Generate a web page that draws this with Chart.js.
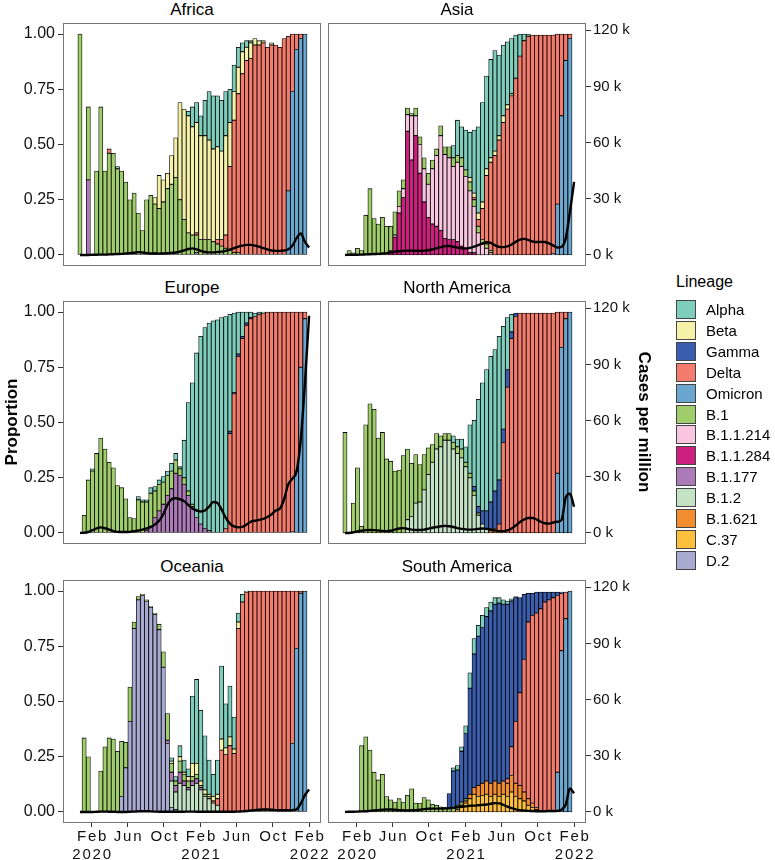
<!DOCTYPE html>
<html>
<head>
<meta charset="utf-8">
<script src="https://cdn.jsdelivr.net/npm/chart.js@4.4.1/dist/chart.umd.min.js"></script>
<style>
  html, body { margin: 0; padding: 0; background: #fff; }
  #fig { position: relative; width: 775px; height: 860px; overflow: hidden;
         font-family: "Liberation Sans", Arial, sans-serif; color: #000; }
  #fig canvas { position: absolute; }
  .strip { position: absolute; width: 258px; height: 22px; line-height: 22px; text-align: center; font-size: 17px; }
  .axis-title { position: absolute; width: 240px; height: 22px; line-height: 22px; text-align: center;
                font-weight: bold; font-size: 17px; }
  .key { position: absolute; width: 20px; height: 19px; box-sizing: border-box; border: 1px solid #444; }
  .key-label { position: absolute; height: 19px; line-height: 19px; font-size: 15px; white-space: nowrap; }
</style>
</head>
<body>
<div id="fig"></div>
<script>
// ---- data ----
const lineages = ['Alpha', 'Beta', 'Gamma', 'Delta', 'Omicron', 'B.1', 'B.1.1.214', 'B.1.1.284',
                  'B.1.177', 'B.1.2', 'B.1.621', 'C.37', 'D.2'];
const lineageColors = ['#7FCDBB', '#F6F1A8', '#3A5DAE', '#F47C6D', '#6AA6CE', '#A0CD6B', '#F8C6DF', '#CC1F7E',
                       '#AD7BB8', '#C3E3C4', '#F28E30', '#FDBF3E', '#A9AAD2'];

// two-week bins (bars use the first 55, the case line runs one bin further)
const binDates = [
  '2019-12-24', '2020-01-07', '2020-01-21', '2020-02-04', '2020-02-18', '2020-03-03', '2020-03-17', '2020-03-31',
  '2020-04-14', '2020-04-28', '2020-05-12', '2020-05-26', '2020-06-09', '2020-06-23', '2020-07-07', '2020-07-21',
  '2020-08-04', '2020-08-18', '2020-09-01', '2020-09-15', '2020-09-29', '2020-10-13', '2020-10-27', '2020-11-10',
  '2020-11-24', '2020-12-08', '2020-12-22', '2021-01-05', '2021-01-19', '2021-02-02', '2021-02-16', '2021-03-02',
  '2021-03-16', '2021-03-30', '2021-04-13', '2021-04-27', '2021-05-11', '2021-05-25', '2021-06-08', '2021-06-22',
  '2021-07-06', '2021-07-20', '2021-08-03', '2021-08-17', '2021-08-31', '2021-09-14', '2021-09-28', '2021-10-12',
  '2021-10-26', '2021-11-09', '2021-11-23', '2021-12-07', '2021-12-21', '2022-01-04', '2022-01-18', '2022-02-01'
];
const xTickDates = ['2020-02-01', '2020-06-01', '2020-10-01', '2021-02-01', '2021-06-01', '2021-10-01', '2022-02-01'];
const xTickLabels = [['Feb', '2020'], 'Jun', 'Oct', ['Feb', '2021'], 'Jun', 'Oct', ['Feb', '2022']];
const propTicks = [0, 0.25, 0.5, 0.75, 1];
const caseTicks = [0, 30, 60, 90, 120]; // thousands per million

// proportions in percent, one value per bin
const africaB1 = [100,0,33,0,38,67,38,46,46,39,38, 33,25,28,19,11,25,27,22,21,24,30, 32,35,25,16,10,9,8,7,7,7,6, 5,4,3,2,1,1,0,0,0,0,0, 0,0,0,0,0,0,0,0,0,0,0];
const africaB1177 = [0,0,34,0,0,0,0,0,0,0,0, 0,0,0,0,0,0,0,1,0,0,0, 0,0,0,0,0,0,1,0,0,0,0, 0,0,0,0,0,0,0,0,0,0,0, 0,0,0,0,0,0,0,0,0,0,0];
const africaBeta = [0,0,0,0,0,0,0,0,0,0,0, 0,0,0,0,0,0,0,3,15,10,7, 13,18,44,50,53,49,50,47,47,45,42, 42,40,45,20,13,12,10,6,7,3,2, 1,0,1,0,0,0,0,0,0,0,0];
const africaAlpha = [0,0,0,0,0,0,0,0,0,1,0, 0,0,0,0,0,0,0,0,0,0,0, 0,0,0,0,2,9,9,9,16,22,24, 23,23,20,15,12,9,4,3,1,0,0, 0,0,0,0,0,0,0,0,0,0,0];
const africaDelta = [0,0,0,0,0,0,0,2,0,0,0, 0,0,0,0,0,0,0,0,0,0,0, 0,0,0,0,0,0,1,0,0,0,0, 2,3,6,38,60,72,82,88,89,95,95, 96,94,95,95,94,98,70,26,7,2,0];
const africaOmicron = [0,0,0,0,0,0,0,0,0,0,0, 0,0,0,0,0,0,0,0,0,0,0, 0,0,0,0,0,0,0,0,0,0,0, 0,0,0,0,0,0,0,0,0,0,0, 0,0,0,0,0,0,29,74,93,98,100];
const africaCases = [0,0,0,0.1,0.1,0.2,0.2,0.3,0.4,0.5,0.6, 0.8,1,1.2,1.5,1.3,1,0.8,0.7,0.7,0.8,0.9, 1.1,1.3,1.8,2.5,3.2,3.5,3,2.2,1.6,1.4,1.4, 1.6,1.8,2.2,2.8,3.6,4.4,5,5.4,5.4,5,4.4, 3.6,3,2.4,2.2,2.2,2.4,3,5,9,11.5,7,4];

const asiaB1 = [0,2,1,3,2,18,30,16.5,14,17,13, 11,10.5,7,4,3,1,3.5,3.5,5,5,4, 3,4.5,3.5,5,4,3,4,3,4,3,3, 2,2,1,0,0,0,0,0,0,0,0, 0,0,0,0,0,0,0,0,0,0,0];
const asiaB11284 = [0,0,0,0,0,0,0,0,0,0,0, 2,8,19,26,56,43,54,37,24,17,14, 13,11,7.5,7,7,6,4,3,1,1,0, 0,0,0,0,0,0,0,0,0,0,0, 0,0,0,0,0,0,0,0,0,0,0];
const asiaB11214 = [0,0,0,0,0,0,0,0,0,0,0, 0,1,3,4,7.5,20,9,13,15,15,25, 32,43,38,37,33,36,36,32.5,28,21,10, 5,3,1,0,0,0,0,0,0,0,0, 0,0,0,0,0,0,0,0,0,0,0];
const asiaAlpha = [0,0,0,0,0,0,0,0,0,0,0, 0,0,0,0,0,0,0,0,0,0,0, 0,0,0,0,5.5,16,14,18,20.5,28.5,39, 45,42,44.5,45.5,36.5,32,28.5,25,19.5,10,3, 1,0,0,0,0,0,0,0,0,0,0];
const asiaBeta = [0,0,0,0,0,0,0,0,0,0,0, 0,0,0,0,0,0,0,0,0,0,0, 0,0,0,0,0,0,0,0,2,2,3, 3,3,2,2,2,3,2,1,0,0,0, 0,0,0,0,0,0,0,0,0,0,0];
const asiaDelta = [0,0,0,0,0,0,0,0,0,0,0, 0,0,0,0,0,0,0,0,0,0,0, 0,0,0,0,0,0,0,0,0,1,3, 14,31,40,45,52,60,66,72,80,90,97, 99,99.5,99.5,99.5,99.5,99.5,99,77,37,12,2];
const asiaOmicron = [0,0,0,0,0,0,0,0,0,0,0, 0,0,0,0,0,0,0,0,0,0,0, 0,0,0,0,0,0,0,0,0,0,0, 0,0,0,0,0,0,0,0,0,0,0, 0,0,0,0,0,0,0.5,23,63,88,98];
const asiaCases = [0,0.1,0.1,0.1,0.2,0.3,0.4,0.5,0.6,0.8,1, 1.4,1.8,2,2.2,2.3,2.3,2.2,2.2,2.3,2.5,3, 3.6,4.2,4.7,4.8,4.4,3.9,3.6,3.5,3.8,4.4,5.2, 6.2,6.8,6.4,5.2,4.3,4.2,4.6,5.6,7,8.2,8.6, 8,7.2,6.9,7,6.9,6.2,5,4,4.4,9,23,39];

const europeB1 = [0,8,24,28,36,43,38,32,29.5,21.5,20.5, 15.5,7,6.5,15,14,13,15,12,12,10,9, 8,6,3,3,2,1,0,0,0,0,0, 0,0,0,0,0,0,0,0,0,0,0, 0,0,0,0,0,0,0,0,0,0,0];
const europeB1177 = [0,0,0,0,0,0,0,0,0,0,0, 0,0,0,0,0,1,3,7,10,13,17, 20,27,26,22,17,12,7,4,2,1,0, 0,0,0,0,0,0,0,0,0,0,0, 0,0,0,0,0,0,0,0,0,0,0];
const europeAlpha = [0,0,0,1,0,0,0,0,0,0,0, 0,0,0,1.5,1,1,2.5,2,2,2.5,2, 3.5,3,1,17,40,55,74.5,85,91,94,96, 96.5,97.5,96,53,36,19,11,5,2.5,1.5,1, 0.5,0,0,0,0,0,0,0,0,0,0];
const europeGamma = [0,0,0,0,0,0,0,0,0,0,0, 0,0,0,0,0,0,0,0,0,0,0, 0,0,0,0,0,0,0,0,0,0,0, 0,0,0,1,0.5,1,1,1,0.5,0,0, 0,0,0,0,0,0,0,0,0,0,0];
const europeDelta = [0,0,0,0,0,0,0,0,0,0,0, 0,0,0,0,0,0,0,0,0,0,0, 0,0,0,0,0,0,0,0,0,0,0, 0,0,2,45,63,80,88,94,97,98,99, 99.5,100,100,100,100,100,100,99.5,72,25,3];
const europeOmicron = [0,0,0,0,0,0,0,0,0,0,0, 0,0,0,0,0,0,0,0,0,0,0, 0,0,0,0,0,0,0,0,0,0,0, 0,0,0,0,0,0,0,0,0,0,0, 0,0,0,0,0,0,0,0.5,28,75,97];
const europeCases = [0,0.1,0.5,1.5,2.5,3,2.5,1.8,1,0.6,0.5, 0.5,0.6,0.9,1.3,1.8,2.4,3.2,4.5,6.5,10,15, 18,18.5,18,17,15,13,12,11.5,12,14,16.5, 16,12.5,8,5,3.5,3,3.2,4.5,6,6.5,7, 7.5,8.5,10,12,13,18,26,29,33,50,80,116];

const naB1 = [45.5,0,13.5,29.5,3,49,58.5,56,43,45.5,33.5, 32.5,28,28.5,35,32,24,22,17,16,12,8, 7,5,3,3,3,3,4,2,2,2,1, 0,0,0,0,0,0,0,0,0,0,0, 0,0,0,0,0,0,0,0,0,0,0];
const naB12 = [0,0,0,0,0,0,0,0,0,0,0, 0,0,0,0,6,7.5,13.5,14,19.5,26.5,32, 38,39,42,42,38,36,34,30,25,17,8, 4,2,1,0,0,0,0,0,0,0,0, 0,0,0,0,0,0,0,0,0,0,0];
const naAlpha = [0,0,0,0,0,0,0,0,0,0,0, 0,0,0,0,0,0,0,0,0,0,0, 0,0,0,0,3,3.5,4.5,7,22,30,48.5, 58,64,66,64,65,46.5,23.5,8,0,0,0, 0,0,0,0,0,0,0,0,0,0,0];
const naGamma = [0,0,0,0,0,0,0,0,0,0,0, 0,0,0,0,0,0,0,0,0,0,0, 0,0,0,0,0,0,0,0,0,2,3, 6,8,12,17,20,6,8,3,1.5,0,0, 0,0,0,0,0,0,0,0,0,0,0];
const naB1621 = [0,0,0,0,0,0,0,0,0,0,0, 0,0,0,0,0,0,0,0,0,0,0, 0,0,0,0,0,0,0,0,0,0,0, 0,0,1,1,1,0,0,0,0,0,0, 0,0,0,0,0,0,0,0,0,0,0];
const naDelta = [0,0,0,0,0,0,0,0,0,0,0, 0,0,0,0,0,0,0,0,0,0,0, 0,0,0,0,0,0,0,0,0,0,0, 0,0,0,1,3,41,66,88,98,99.5,99.5, 99.5,99.5,99.5,99.5,99.5,99.5,99.5,73,16,3,0];
const naOmicron = [0,0,0,0,0,0,0,0,0,0,0, 0,0,0,0,0,0,0,0,0,0,0, 0,0,0,0,0,0,0,0,0,0,0, 0,0,0,0,0,0,0,0,0,0,0, 0,0,0,0,0,0,0,27,84,97,100];
const naCases = [0,0,0.3,0.8,1.2,1.5,1.6,1.5,1.3,1.1,1, 1.2,1.8,2.4,2.6,2.2,1.8,1.6,1.6,1.8,2.3,2.8, 3.2,3.6,3.8,3.6,3.2,2.6,2.2,1.9,1.8,1.9,2.2, 2.4,2.2,1.8,1.3,1,1,1.4,2.4,4,5.8,7.2, 8,8,7.2,6,5.2,5,5.6,6,7,19,21,14];

const oceaniaB1 = [0,33.5,25,0,0,18.5,29.5,33.5,33,27.5,25, 11.5,15.5,3,1.5,0.5,0.5,0.5,0.5,2.5,7,12, 4,2,5,3,3,2,2,1,1,1,0, 0,0,0,0,0,0,0,0,0,0,0, 0,0,0,0,0,0,0,0,0,0,0];
const oceaniaD2 = [0,0,0,0,0,0,0,0,0,0,7, 20,41,83,96,98,95.5,92.5,89.5,82.5,65.5,31, 2,1,0,0,0,0,0,0,0,0,0, 0,0,0,0,0,0,0,0,0,0,0, 0,0,0,0,0,0,0,0,0,0,0];
const oceaniaB1177 = [0,0,0,0,0,0,0,0,0,0,0, 0,0,0,0,0,0,0,0,0,0,1.5, 4,3,5,2,1,2,2,1,0,0,0, 0,0,0,0,0,0,0,0,0,0,0, 0,0,0,0,0,0,0,0,0,0,0];
const oceaniaB12 = [0,0,0,0,0,0,0,0,0,0,0, 0,0,0,0,0,0,0,0,0,0,0, 12,8,13,12,10,12,13,10,7,6,4, 3,0,0,0,0,0,0,0,0,0,0, 0,0,0,0,0,0,0,0,0,0,0];
const oceaniaBeta = [0,0,0,0,0,0,0,0,0,0,0, 0,0,0,0,0,0,0,0,0,0,0, 1,0,2,1,2,6,5,2,2,1,2, 2,5,3,4,2,3,0,0,0,0,0, 0,0,0,0,0,0,0,0,0,0,0];
const oceaniaAlpha = [0,0,0,0,0,0,0,0,0,0,0, 0,0,0,0,0,0,0,0,0,0,0, 1.5,2,5,5.5,3.5,30.5,38,32,24.5,15.5,10, 15.5,33,20,23,14.5,4,3.5,0.5,0,0,0, 0,0,0,0,0,0,0,0,0,0,0];
const oceaniaDelta = [0,0,0,0,0,0,0,0,0,0,0, 0,0,0,0,0,0,0,0,0,0,0, 0,0,0,0,0,0,0,0,0,0,1, 3,28,26,30,26.5,83,95,99.5,100,100,100, 100,100,100,100,100,100,100,69,26,1,0];
const oceaniaOmicron = [0,0,0,0,0,0,0,0,0,0,0, 0,0,0,0,0,0,0,0,0,0,0, 0,0,0,0,0,0,0,0,0,0,0, 0,0,0,0,0,0,0,0,0,0,0, 0,0,0,0,0,0,0,31,74,99,100];
const oceaniaCases = [0,0,0,0,0.1,0.2,0.2,0.1,0.1,0,0, 0,0.1,0.2,0.3,0.4,0.4,0.3,0.2,0.1,0.1,0.1, 0.1,0.1,0.1,0.1,0.2,0.2,0.1,0.1,0.1,0.1,0.1, 0.1,0.1,0.1,0.1,0.1,0.2,0.3,0.5,0.8,1,1.2, 1.3,1.3,1.2,1,0.9,0.9,0.9,1,1.5,4.5,9,12];

const saB1 = [0,0,0,0,30,34,28,18,14.5,17,7, 5.5,4.5,6,4.5,7.5,10.5,4,4,6.5,5.5,3.5, 3,2.3,2,1.5,1.5,2,1,1,0,0,0, 0,0,0,0,0,0,0,0,0,0,0, 0,0,0,0,0,0,0,0,0,0,0];
const saGamma = [0,0,0,0,0,0,0,0,0,0,0, 0,0,0,0,0,0,0,0,0,0,0, 0,0,0,6.8,17,16,23,29.5,48,60.5,67.5, 70.5,74.5,78,80,81.5,80,79,66,56,43,29.5, 13,10,9.5,7.5,4.5,3.5,2.5,1.5,0.5,0,0];
const saAlpha = [0,0,0,0,0,0,0,0,0,0,0, 0,0,0,0,0,0,0,0,0,0,0, 0,0,0,0,1.5,2,2,3.5,7,7,5, 5.5,4,4,3,2.5,2,1.5,1,0.5,0,0, 0,0,0,0,0,0,0,0,0,0,0];
const saC37 = [0,0,0,0,0,0,0,0,0,0,0, 0,0,0,0,0,0,0,0,0,0,0, 0,0,0,0,0,1,3,4,6,8,7, 7.5,8,7,8,7,8,7,9,7,6,5, 3,2,1,0,0,0,0,0,0,0,0];
const saB1621 = [0,0,0,0,0,0,0,0,0,0,0, 0,0,0,0,0,0,0,0,0,0,0, 0,0,0,0,0,0,0.5,1,2,3,5, 5.5,6,6,6,6,6,6,7.5,6,6,4, 3,2,1,0,0,0,0,0,0,0,0];
const saDelta = [0,0,0,0,0,0,0,0,0,0,0, 0,0,0,0,0,0,0,0,0,0,0, 0,0,0,0,0,0,0,0,0,0,0, 0,0,0,0,0,0,2,13,28,42,60, 80,85,88,92,95,96,97,80,26,12,0];
const saOmicron = [0,0,0,0,0,0,0,0,0,0,0, 0,0,0,0,0,0,0,0,0,0,0, 0,0,0,0,0,0,0,0,0,0,0, 0,0,0,0,0,0,0,0,0,0,0, 0,0,0,0,0,0,0,18,73,87.5,100];
const saCases = [0,0.1,0.1,0.2,0.3,0.4,0.6,0.8,1,1.2,1.3, 1.3,1.2,1,0.9,0.8,0.9,1,1.2,1.5,1.7,1.8, 1.8,1.8,1.9,2,2.2,2.5,2.8,3,3.3,3.4,3.6, 3.8,4,4.4,4.7,4.6,3.8,2.8,2,1.4,1,0.8, 0.6,0.5,0.4,0.4,0.4,0.5,0.5,0.6,1.2,4,12.5,10];

const panels = [
  { name: 'Africa', col: 0, row: 0, cases: africaCases,
    series: { 'B.1': africaB1, 'B.1.177': africaB1177, 'Beta': africaBeta, 'Alpha': africaAlpha,
              'Delta': africaDelta, 'Omicron': africaOmicron } },
  { name: 'Asia', col: 1, row: 0, cases: asiaCases,
    series: { 'B.1': asiaB1, 'B.1.1.284': asiaB11284, 'B.1.1.214': asiaB11214, 'Alpha': asiaAlpha,
              'Beta': asiaBeta, 'Delta': asiaDelta, 'Omicron': asiaOmicron } },
  { name: 'Europe', col: 0, row: 1, cases: europeCases,
    series: { 'B.1': europeB1, 'B.1.177': europeB1177, 'Alpha': europeAlpha, 'Gamma': europeGamma,
              'Delta': europeDelta, 'Omicron': europeOmicron } },
  { name: 'North America', col: 1, row: 1, cases: naCases,
    series: { 'B.1': naB1, 'B.1.2': naB12, 'Alpha': naAlpha, 'Gamma': naGamma, 'B.1.621': naB1621,
              'Delta': naDelta, 'Omicron': naOmicron } },
  { name: 'Oceania', col: 0, row: 2, cases: oceaniaCases,
    series: { 'B.1': oceaniaB1, 'D.2': oceaniaD2, 'B.1.177': oceaniaB1177, 'B.1.2': oceaniaB12,
              'Beta': oceaniaBeta, 'Alpha': oceaniaAlpha, 'Delta': oceaniaDelta, 'Omicron': oceaniaOmicron } },
  { name: 'South America', col: 1, row: 2, cases: saCases,
    series: { 'B.1': saB1, 'Gamma': saGamma, 'Alpha': saAlpha, 'C.37': saC37, 'B.1.621': saB1621,
              'Delta': saDelta, 'Omicron': saOmicron } }
];

// ---- layout ----
const FONT = '"Liberation Sans", Arial, sans-serif';
const frameTops = [23, 301, 580];
const frameLefts = [63, 328];
const frameW = 258, frameH = 243;
const leftAxisW = 63, rightAxisW = 50, bottomAxisH = 37;
const spillRight = 16; // room for the last month label of the left column

const DAY0 = Date.UTC(2020, 1, 1);
function dayOf(s) {
  const [y, m, d] = s.split('-').map(Number);
  return (Date.UTC(y, m - 1, d) - DAY0) / 86400000;
}
const xMin = dayOf('2019-10-28');
const xMax = dayOf('2022-03-13');

Chart.defaults.font.family = FONT;
Chart.defaults.color = '#111';

const framePlugin = {
  id: 'frame',
  afterDraw(chart) {
    const { ctx, chartArea: a } = chart;
    ctx.save();
    ctx.strokeStyle = '#777';
    ctx.lineWidth = 1;
    ctx.strokeRect(a.left + 0.5, a.top + 0.5, a.right - a.left - 1, a.bottom - a.top - 1);
    ctx.restore();
  }
};

const monthLabelPlugin = {
  id: 'monthLabels',
  afterDraw(chart, args, opts) {
    if (!opts.show) return;
    const { ctx, chartArea } = chart;
    const xs = chart.scales.x;
    ctx.save();
    ctx.font = '15px ' + FONT;
    ctx.fillStyle = '#111';
    ctx.textAlign = 'center';
    ctx.textBaseline = 'top';
    if ('letterSpacing' in ctx) ctx.letterSpacing = '1.8px';
    xTickDates.forEach((d, i) => {
      const px = xs.getPixelForValue(dayOf(d)) + 1;
      const lab = xTickLabels[i];
      (Array.isArray(lab) ? lab : [lab]).forEach((t, j) => {
        ctx.fillText(t, px, chartArea.bottom + 6 + j * 18);
      });
    });
    ctx.restore();
  }
};

// fixed axis sizes so every panel frame lands on the same grid
function fixWidth(w) {
  return s => { s.width = s.options.display ? w : 0; s.paddingTop = 0; s.paddingBottom = 0; };
}
function fixHeight(h) {
  return s => { s.height = s.options.display ? h : 0; s.paddingLeft = 0; s.paddingRight = 0; };
}

function buildDatasets(p) {
  const ds = [];
  // stack bottom-up: reverse of the legend order
  for (let i = lineages.length - 1; i >= 0; i--) {
    const vals = p.series[lineages[i]];
    if (!vals) continue;
    ds.push({
      type: 'bar',
      label: lineages[i],
      data: vals.map((v, k) => ({ x: dayOf(binDates[k]), y: v / 100 })).filter(pt => pt.y > 0),
      backgroundColor: lineageColors[i],
      borderColor: '#000',
      borderWidth: 0.8,
      borderSkipped: false,
      barPercentage: 1,
      categoryPercentage: 1,
      stack: 'p',
      yAxisID: 'y',
      order: 2
    });
  }
  ds.push({
    type: 'line',
    label: 'Cases per million',
    data: p.cases.map((c, k) => ({ x: dayOf(binDates[k]), y: c })),
    yAxisID: 'y2',
    borderColor: '#000',
    borderWidth: 2.4,
    pointRadius: 0,
    cubicInterpolationMode: 'monotone',
    fill: false,
    order: 0
  });
  return ds;
}

const fig = document.getElementById('fig');

panels.forEach(p => {
  const bottom = p.row === 2;
  const left = p.col === 0 ? 0 : frameLefts[1];
  const width = p.col === 0 ? leftAxisW + frameW + spillRight : frameW + rightAxisW;
  const height = frameH + (bottom ? bottomAxisH : 0);
  const top = frameTops[p.row];

  const cv = document.createElement('canvas');
  cv.width = width; cv.height = height;
  cv.style.left = left + 'px'; cv.style.top = top + 'px';
  cv.style.width = width + 'px'; cv.style.height = height + 'px';
  fig.appendChild(cv);

  const strip = document.createElement('div');
  strip.className = 'strip';
  strip.textContent = p.name;
  strip.style.left = frameLefts[p.col] + 'px';
  strip.style.top = (top - 24) + 'px';
  fig.appendChild(strip);

  new Chart(cv, {
    type: 'bar',
    data: { datasets: buildDatasets(p) },
    options: {
      responsive: false,
      animation: false,
      devicePixelRatio: 1,
      layout: { padding: { left: 0, top: 0, bottom: 0, right: p.col === 0 ? spillRight : 0 }, autoPadding: false },
      plugins: { legend: { display: false }, tooltip: { enabled: false }, monthLabels: { show: bottom } },
      scales: {
        x: {
          type: 'linear', min: xMin, max: xMax, offset: false, stacked: true, display: bottom,
          afterBuildTicks: s => { s.ticks = xTickDates.map(d => ({ value: dayOf(d) })); },
          afterFit: fixHeight(bottomAxisH),
          grid: { drawOnChartArea: false, tickLength: 4, color: '#333', offset: false },
          border: { display: false },
          ticks: { display: false }
        },
        y: {
          type: 'linear', position: 'left', stacked: true, min: -0.05, max: 1.05, display: p.col === 0,
          afterBuildTicks: s => { s.ticks = propTicks.map(v => ({ value: v })); },
          afterFit: fixWidth(leftAxisW),
          grid: { drawOnChartArea: false, tickLength: 5, color: '#333' },
          border: { display: false },
          ticks: { padding: 3, font: { size: 16 }, color: '#111', callback: v => v.toFixed(2) }
        },
        y2: {
          type: 'linear', position: 'right', min: -5.9, max: 123.9, display: p.col === 1,
          afterBuildTicks: s => { s.ticks = caseTicks.map(v => ({ value: v })); },
          afterFit: fixWidth(rightAxisW),
          grid: { drawOnChartArea: false, tickLength: 5, color: '#333' },
          border: { display: false },
          ticks: { padding: 2, font: { size: 15 }, color: '#111', callback: v => v + ' k' }
        }
      }
    },
    plugins: [framePlugin, monthLabelPlugin]
  });
});

// axis titles
function addTitle(text, cx, cy, angle) {
  const d = document.createElement('div');
  d.className = 'axis-title';
  d.textContent = text;
  d.style.left = (cx - 120) + 'px';
  d.style.top = (cy - 11) + 'px';
  d.style.transform = 'rotate(' + angle + 'deg)';
  fig.appendChild(d);
}
addTitle('Proportion', 12, 422, -90);
addTitle('Cases per million', 644, 422, 90);

// legend
const legTitle = document.createElement('div');
legTitle.textContent = 'Lineage';
legTitle.style.cssText = 'position:absolute;left:676px;top:272px;height:20px;line-height:20px;font-size:16px;';
fig.appendChild(legTitle);
lineages.forEach((name, i) => {
  const y = 300 + i * 20.9;
  const key = document.createElement('div');
  key.className = 'key';
  key.style.left = '676px';
  key.style.top = y + 'px';
  key.style.background = lineageColors[i];
  fig.appendChild(key);
  const lab = document.createElement('div');
  lab.className = 'key-label';
  lab.textContent = name;
  lab.style.left = '706px';
  lab.style.top = y + 'px';
  fig.appendChild(lab);
});
</script>
</body>
</html>
